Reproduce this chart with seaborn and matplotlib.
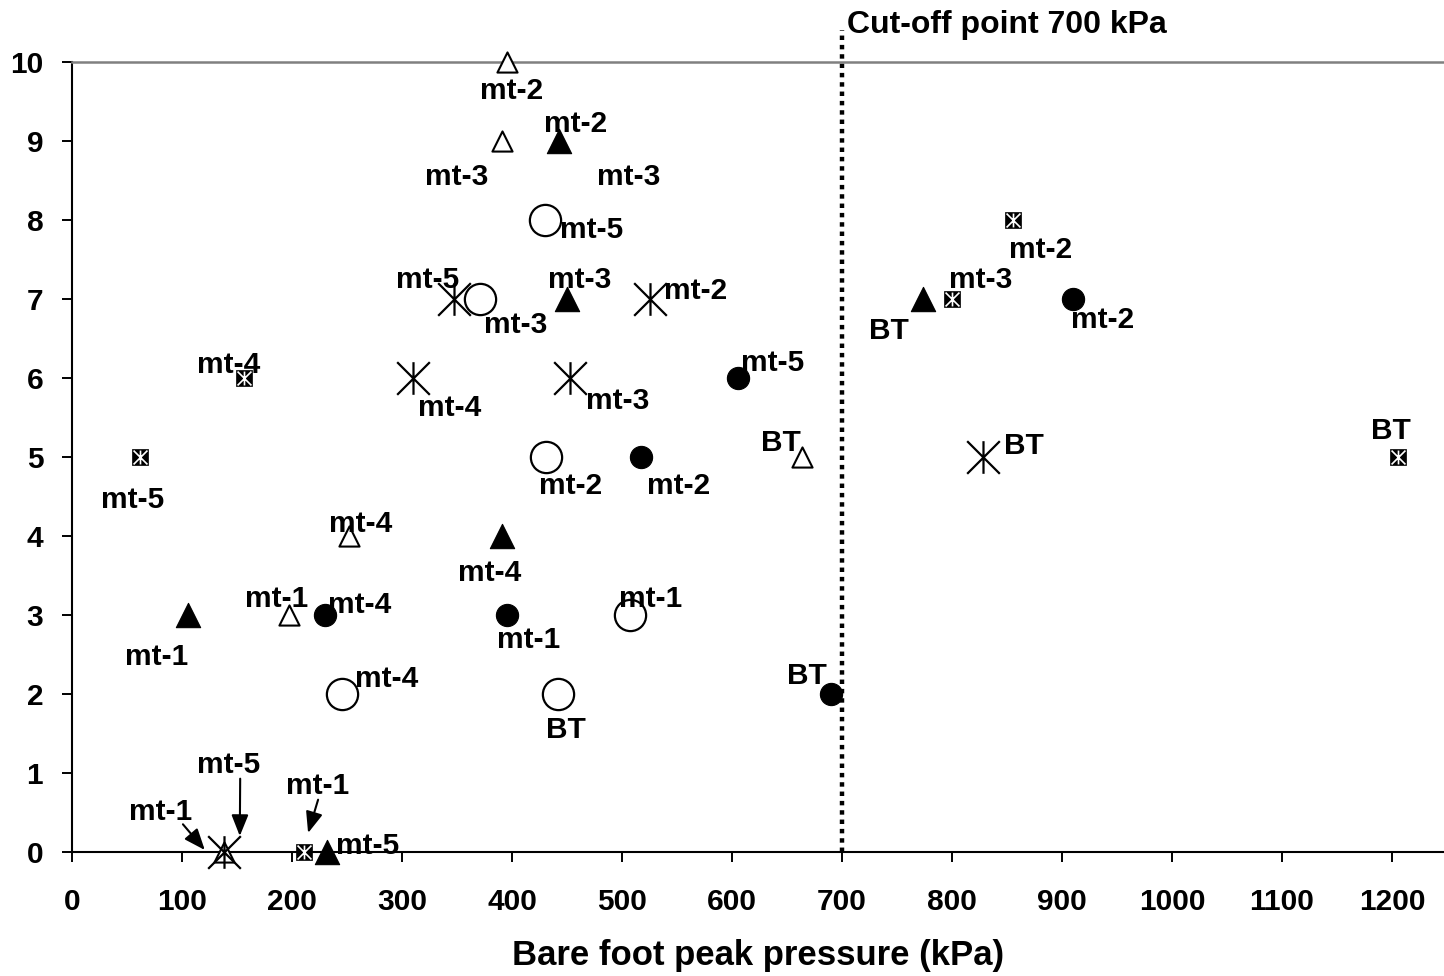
import matplotlib
matplotlib.use("Agg")
import matplotlib.pyplot as plt
import matplotlib.transforms as mtransforms
from matplotlib.path import Path
import pandas as pd
import seaborn as sns

# ---------------- data ----------------
cutoff_kpa = 700
cutoff_text = "Cut-off point 700 kPa"
x_label = "Bare foot peak pressure (kPa)"
x_ticks = list(range(0, 1201, 100))
y_ticks = list(range(0, 11))

open_tri_x = [395, 391, 664, 252, 197, 138]
open_tri_y = [10, 9, 5, 4, 3, 0]
open_tri_lab = ["mt-2", "mt-3", "BT", "mt-4", "mt-1", "mt-5"]

fill_tri_x = [443, 450, 391, 105, 232, 774]
fill_tri_y = [9, 7, 4, 3, 0, 7]
fill_tri_lab = ["mt-2", "mt-3", "mt-4", "mt-1", "mt-5", "BT"]

fill_circ_x = [910, 605, 517, 230, 395, 690]
fill_circ_y = [7, 6, 5, 3, 3, 2]
fill_circ_lab = ["mt-2", "mt-5", "mt-2", "mt-4", "mt-1", "BT"]

open_circ_x = [430, 371, 431, 507, 245, 442]
open_circ_y = [8, 7, 5, 3, 2, 2]
open_circ_lab = ["mt-5", "mt-3", "mt-2", "mt-1", "mt-4", "BT"]

star_x = [347, 525, 310, 453, 828, 138]
star_y = [7, 7, 6, 6, 5, 0]
star_lab = ["mt-5", "mt-2", "mt-4", "mt-3", "BT", "mt-1"]

sq_x = [855, 800, 156, 62, 1205, 211]
sq_y = [8, 7, 6, 5, 5, 0]
sq_lab = ["mt-2", "mt-3", "mt-4", "mt-5", "BT", "mt-1"]

extra_lab = "mt-3"   # stray label beside the filled triangle at 9

# ---------------- label placement (pixels: right, up) ----------------
open_tri_off = [(5, -26), (-45, -33), (-21, 17), (11, 15), (-12, 19), (5, 90)]
open_tri_tip = [None, None, None, None, None, ((16, 16), (0.68, 0.0))]
fill_tri_off = [(16, 20), (13, 22), (-12, -34), (-31, -39), (40, 9), (-34, -29)]
fill_circ_off = [(30, -18), (35, 18), (38, -26), (35, 13), (22, -22), (-24, 21)]
open_circ_off = [(47, -7), (36, -23), (25, -26), (21, 19), (45, 18), (8, -33)]
star_off = [(-26, 22), (46, 11), (37, -27), (47, -20), (41, 14), (-63, 43)]
star_tip = [None, None, None, None, None, ((-19, 2), (0.85, 0.05))]
sq_off = [(28, -27), (29, 22), (-15, 16), (-8, -40), (-7, 29), (14, 69)]
sq_tip = [None, None, None, None, None, ((4, 19), (0.5, 0.0))]
extra_off = (69, -33)

# ---------------- style ----------------
sns.set_style("white")
plt.rcParams["font.family"] = ["Liberation Sans", "DejaVu Sans"]
plt.rcParams["font.weight"] = "bold"
for k in ["text.color", "axes.labelcolor", "xtick.color", "ytick.color",
          "xtick.labelcolor", "ytick.labelcolor"]:
    plt.rcParams[k] = "black"

DPI = 100
FS_TICK = 21.5
FS_ANN = 21.5
FS_CUT = 23
FS_XLAB = 25

fig = plt.figure(figsize=(14.44, 9.76), dpi=DPI)
ax = fig.add_axes([72 / 1444, 124 / 976, (1444 - 72) / 1444, 790 / 976])

asterisk = Path(
    [(0, -1), (0, 1), (-1, -1), (1, 1), (-1, 1), (1, -1)],
    [Path.MOVETO, Path.LINETO, Path.MOVETO, Path.LINETO, Path.MOVETO, Path.LINETO],
)


def draw(xs, ys, marker, ms, face, edge, lw):
    df = pd.DataFrame({"x": xs, "y": ys})
    sns.scatterplot(data=df, x="x", y="y", ax=ax, marker=marker, s=ms ** 2,
                    color=face, edgecolor=edge, linewidth=lw, clip_on=False,
                    zorder=4, legend=False)


draw(open_tri_x, open_tri_y, "^", 14.5, "white", "black", 1.5)
draw(fill_tri_x, fill_tri_y, "^", 17.5, "black", "black", 0.8)
draw(fill_circ_x, fill_circ_y, "o", 16, "black", "black", 0.8)
draw(open_circ_x, open_circ_y, "o", 22.5, "white", "black", 1.6)
draw(star_x, star_y, asterisk, 23.5, "black", "black", 1.6)
draw(sq_x, sq_y, "s", 11, "black", "black", 0.5)
draw(sq_x, sq_y, asterisk, 10, "white", "white", 1.2)

# cut-off line
ax.axvline(cutoff_kpa, ymin=0, ymax=1.04, color="black", lw=3.2,
           ls=(0, (1, 1.1)), clip_on=False, zorder=2)
ax.annotate(cutoff_text, xy=(cutoff_kpa, 1.0),
            xycoords=ax.get_xaxis_transform(),
            xytext=(5 * 0.72, 29 * 0.72), textcoords="offset points",
            ha="left", va="baseline", fontsize=FS_CUT, fontweight="bold",
            color="black", annotation_clip=False)

BASE = 0.358 * FS_ANN  # half cap height in points


def label_series(xs, ys, labs, offs, tips=None):
    for i, (x, y, lab, (dx, dy)) in enumerate(zip(xs, ys, labs, offs)):
        tip = tips[i] if tips is not None else None
        if tip is None:
            ax.annotate(lab, xy=(x, y), xytext=(dx * 0.72, dy * 0.72 - BASE),
                        textcoords="offset points", ha="center", va="baseline",
                        fontsize=FS_ANN, fontweight="bold", color="black",
                        annotation_clip=False, zorder=5)
        else:
            (tdx, tdy), rp = tip
            tr = ax.transData + mtransforms.ScaledTranslation(
                tdx / DPI, tdy / DPI, fig.dpi_scale_trans)
            ax.annotate(lab, xy=(x, y), xycoords=tr,
                        xytext=((dx - tdx) * 0.72, (dy - tdy) * 0.72 - BASE),
                        textcoords="offset points", ha="center", va="baseline",
                        fontsize=FS_ANN, fontweight="bold", color="black",
                        annotation_clip=False, zorder=5,
                        arrowprops=dict(arrowstyle="-|>,head_length=0.6,head_width=0.24",
                                        color="black", lw=1.5, shrinkA=0, shrinkB=0,
                                        patchA=None, relpos=rp))


label_series(open_tri_x, open_tri_y, open_tri_lab, open_tri_off, open_tri_tip)
label_series(fill_tri_x, fill_tri_y, fill_tri_lab, fill_tri_off)
label_series(fill_circ_x, fill_circ_y, fill_circ_lab, fill_circ_off)
label_series(open_circ_x, open_circ_y, open_circ_lab, open_circ_off)
label_series(star_x, star_y, star_lab, star_off, star_tip)
label_series(sq_x, sq_y, sq_lab, sq_off, sq_tip)
label_series([fill_tri_x[0]], [fill_tri_y[0]], [extra_lab], [extra_off])

# axes
ax.set_xlim(0, (1444 - 72) / 1.1)
ax.set_ylim(0, 10)
ax.set_xticks(x_ticks)
ax.set_yticks(y_ticks)
ax.set_xticklabels([str(v) for v in x_ticks], fontsize=FS_TICK, fontweight="bold",
                   color="black")
ax.set_yticklabels([str(v) for v in y_ticks], fontsize=FS_TICK, fontweight="bold",
                   color="black")
ax.tick_params(axis="x", direction="out", length=7.2, width=1.4, pad=18.5,
               bottom=True, colors="black")
ax.tick_params(axis="y", direction="out", length=7.2, width=1.4, pad=13.5,
               left=True, colors="black")
ax.set_xlabel(x_label, fontsize=FS_XLAB, fontweight="bold", labelpad=17,
              color="black")
ax.set_ylabel("")

for s in ["left", "bottom"]:
    ax.spines[s].set_color("black")
    ax.spines[s].set_linewidth(1.5)
ax.spines["top"].set_color("#808080")
ax.spines["top"].set_linewidth(1.8)
ax.spines["right"].set_visible(False)
ax.grid(False)

fig.savefig("out.png", dpi=DPI)
